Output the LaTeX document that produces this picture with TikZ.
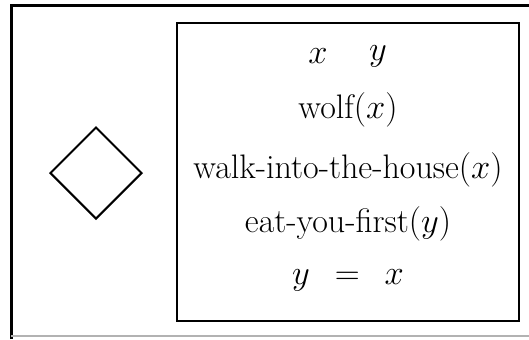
\documentclass[tikz,border=0pt]{standalone}
\usetikzlibrary{shapes.geometric}
\tikzset{
  frame/.style={line width=1.5pt},
  drsbox/.style={draw,line width=1.4pt},
  cond/.style={inner sep=0pt,font=\fontsize{17}{20}\selectfont},
  emptybox/.style={draw,diamond,line width=1pt,minimum size=46pt,inner sep=0pt}
}
\begin{document}
\begin{tikzpicture}[x=0.5pt,y=0.5pt]
  \useasboundingbox (0,0) rectangle (529,339);
  % outer frame, cut off at the right and bottom
  \draw[frame] (11,0) -- (11,334) -- (529,334);
  \draw[gray!60,line width=0.6pt] (11,3) -- (529,3);

  % left box: empty condition
  \node[emptybox] (dia) at (96,166) {};

  % right box
  \draw[drsbox] (177,18) rectangle (519,316);
  \node[cond] (rx) at (318,283) {$x$};
  \node[cond] (ry) at (378,283) {$y$};
  \node[cond] (c1) at (348,229) {wolf$(x)$};
  \node[cond] (c2) at (348,169) {walk-into-the-house$(x)$};
  \node[cond] (c3) at (348,115) {eat-you-first$(y)$};
  \node[cond] (c4) at (348,59) {$y\;\,=\;\,x$};
\end{tikzpicture}
\end{document}
